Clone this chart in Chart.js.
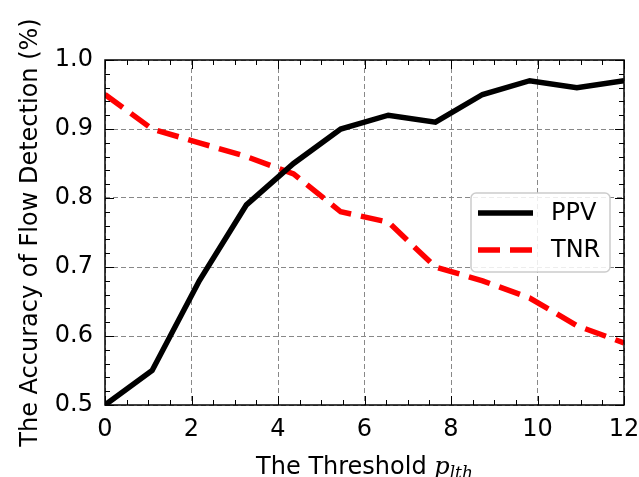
<!DOCTYPE html>
<html>
<head>
<meta charset="utf-8">
<script src="https://cdn.jsdelivr.net/npm/chart.js@4"></script>
<style>
  html, body { margin: 0; padding: 0; background: #fff; }
</style>
</head>
<body>
<canvas id="myChart" width="639" height="477"></canvas>
<script>
// data
const thresholds = [0, 1.09, 2.18, 3.27, 4.36, 5.45, 6.55, 7.64, 8.73, 9.82, 10.91, 12]
const ppv = [0.50, 0.55, 0.68, 0.79, 0.85, 0.90, 0.92, 0.91, 0.95, 0.97, 0.96, 0.97]
const tnr = [0.95, 0.90, 0.88, 0.86, 0.835, 0.78, 0.765, 0.70, 0.68, 0.655, 0.615, 0.59]
const xTicks = [0, 2, 4, 6, 8, 10, 12]
const yTicks = [0.5, 0.6, 0.7, 0.8, 0.9, 1.0]

const FONT = 'DejaVu Sans'

// inward ticks on all four sides + black frame
const frameTicks = {
    id: 'frameTicks',
    afterDatasetsDraw(chart) {
        const { ctx, chartArea: a, scales: { x, y } } = chart
        ctx.save()
        ctx.strokeStyle = '#000'
        ctx.lineWidth = 1
        ctx.beginPath()
        for (let v = x.min; v <= x.max + 1e-6; v += 0.5) {
            const px = Math.round(x.getPixelForValue(v)) + 0.5
            const len = xTicks.some(t => Math.abs(t - v) < 1e-6) ? 9 : 5
            ctx.moveTo(px, a.bottom); ctx.lineTo(px, a.bottom - len)
            ctx.moveTo(px, a.top); ctx.lineTo(px, a.top + len)
        }
        for (let v = y.min; v <= y.max + 1e-6; v += 0.02) {
            const py = Math.round(y.getPixelForValue(v)) + 0.5
            const len = yTicks.some(t => Math.abs(t - v) < 1e-6) ? 9 : 5
            ctx.moveTo(a.left, py); ctx.lineTo(a.left + len, py)
            ctx.moveTo(a.right, py); ctx.lineTo(a.right - len, py)
        }
        ctx.stroke()
        ctx.lineWidth = 1.5
        ctx.strokeRect(a.left, a.top, a.right - a.left, a.bottom - a.top)
        ctx.restore()
    },
    afterDraw(chart) {
        const { ctx, chartArea: a } = chart
        ctx.save()
        // x axis title with math subscript
        const main = 'The Threshold '
        ctx.font = '24px "' + FONT + '"'
        const w1 = ctx.measureText(main).width
        ctx.font = 'italic 24px "DejaVu Serif"'
        const w2 = ctx.measureText('p').width
        ctx.font = 'italic 17px "DejaVu Serif"'
        const w3 = ctx.measureText('lth').width
        let sx = (a.left + a.right) / 2 - (w1 + w2 + w3) / 2
        const base = 474
        ctx.fillStyle = '#000'
        ctx.textBaseline = 'alphabetic'
        ctx.textAlign = 'left'
        ctx.font = '24px "' + FONT + '"'
        ctx.fillText(main, sx, base)
        ctx.font = 'italic 24px "DejaVu Serif"'
        ctx.fillText('p', sx + w1, base)
        ctx.font = 'italic 17px "DejaVu Serif"'
        ctx.fillText('lth', sx + w1 + w2, base + 4)

        // legend box
        const bx = 471, by = 193, bw = 139, bh = 79
        ctx.beginPath()
        ctx.roundRect(bx, by, bw, bh, 5)
        ctx.fillStyle = 'rgba(255,255,255,0.85)'
        ctx.fill()
        ctx.strokeStyle = '#cccccc'
        ctx.lineWidth = 1.5
        ctx.stroke()
        chart.data.datasets.forEach((ds, i) => {
            const ly = by + 20 + i * 37
            ctx.beginPath()
            ctx.strokeStyle = ds.borderColor
            ctx.lineWidth = ds.borderWidth
            ctx.setLineDash(ds.borderDash || [])
            ctx.moveTo(478, ly); ctx.lineTo(533, ly)
            ctx.stroke()
            ctx.setLineDash([])
            ctx.fillStyle = '#000'
            ctx.font = '24px "' + FONT + '"'
            ctx.textBaseline = 'middle'
            ctx.fillText(ds.label, 551, ly + 1)
        })
        ctx.restore()
    }
}

const ctx = document.getElementById('myChart').getContext('2d')
new Chart(ctx, {
    type: 'line',
    data: {
        datasets: [{
            label: 'PPV',
            data: thresholds.map((t, i) => ({ x: t, y: ppv[i] })),
            borderColor: '#000000',
            borderWidth: 5.5,
            pointRadius: 0,
            tension: 0,
        }, {
            label: 'TNR',
            data: thresholds.map((t, i) => ({ x: t, y: tnr[i] })),
            borderColor: '#ff0000',
            borderWidth: 5.5,
            borderDash: [22, 10],
            pointRadius: 0,
            tension: 0,
        }]
    },
    options: {
        responsive: false,
        animation: false,
        devicePixelRatio: 1,
        layout: { padding: { left: 0, right: 15, top: 60, bottom: 0 } },
        plugins: { legend: { display: false }, tooltip: { enabled: false } },
        scales: {
            x: {
                type: 'linear',
                min: 0,
                max: 12,
                afterBuildTicks: axis => { axis.ticks = xTicks.map(v => ({ value: v })) },
                afterFit: axis => { axis.height = 72; axis.paddingRight = 0; axis.paddingLeft = 0 },
                grid: { color: '#888888', lineWidth: 1, drawTicks: false },
                border: { display: false, dash: [5, 3] },
                ticks: {
                    color: '#000',
                    padding: 10,
                    maxRotation: 0,
                    font: { family: FONT, size: 24 },
                },
            },
            y: {
                type: 'linear',
                min: 0.5,
                max: 1.0,
                afterBuildTicks: axis => { axis.ticks = yTicks.map(v => ({ value: v })) },
                afterFit: axis => { axis.width = 105; axis.paddingTop = 0; axis.paddingBottom = 0 },
                grid: { color: '#888888', lineWidth: 1, drawTicks: false },
                border: { display: false, dash: [5, 3] },
                ticks: {
                    color: '#000',
                    padding: 12,
                    font: { family: FONT, size: 24 },
                    callback: v => v.toFixed(1),
                },
                title: {
                    display: true,
                    text: 'The Accuracy of Flow Detection (%)',
                    color: '#000',
                    font: { family: FONT, size: 24 },
                    padding: { top: 16, bottom: 0 },
                },
            },
        },
    },
    plugins: [frameTicks],
})
</script>
</body>
</html>
